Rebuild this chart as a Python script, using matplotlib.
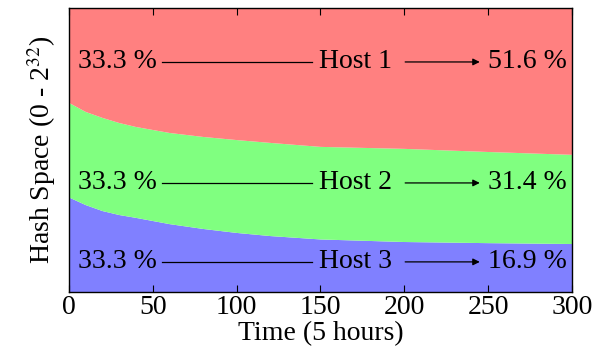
import matplotlib
matplotlib.use("Agg")
import matplotlib.pyplot as plt

# share of the hash ring owned by each host over time
time = [0, 10, 20, 30, 40, 60, 80, 100, 120, 150, 200, 250, 300]
host3 = [0.333, 0.306, 0.285, 0.271, 0.261, 0.239, 0.222, 0.208, 0.197, 0.185, 0.176, 0.172, 0.169]
host2 = [0.333, 0.328, 0.328, 0.324, 0.320, 0.321, 0.324, 0.327, 0.328, 0.326, 0.328, 0.321, 0.314]
host1 = [0.334, 0.366, 0.387, 0.405, 0.419, 0.440, 0.454, 0.465, 0.475, 0.489, 0.496, 0.507, 0.517]

hosts = ["Host 3", "Host 2", "Host 1"]
start_labels = ["33.3 %", "33.3 %", "33.3 %"]
end_labels = ["16.9 %", "31.4 %", "51.6 %"]
row_y = [0.106, 0.384, 0.81]

colors = ["#8080FF", "#80FF80", "#FF8080"]

plt.rcParams["font.family"] = ["Liberation Serif", "DejaVu Serif"]
plt.rcParams["mathtext.fontset"] = "stix"

fig = plt.figure(figsize=(6.1, 3.51), dpi=100)
ax = fig.add_axes([0.1131, 0.1681, 0.8246, 0.8091])

ax.stackplot(time, host3, host2, host1, colors=colors, linewidth=0)
ax.set_xlim(0, 300)
ax.set_ylim(0, 1)

fs = 20
for name, a, b, y in zip(hosts, start_labels, end_labels, row_y):
    ax.text(5.4, y, a, fontsize=fs, va="center", ha="left")
    ax.plot([55.5, 145], [y, y], color="black", linewidth=0.9)
    ax.text(171, y, name, fontsize=fs, va="center", ha="center")
    ax.annotate("", xy=(245, y), xytext=(200.5, y),
                arrowprops=dict(arrowstyle="-|>", color="black", lw=0.9,
                                mutation_scale=10, shrinkA=0, shrinkB=0))
    ax.text(250, y, b, fontsize=fs, va="center", ha="left")

ax.set_xticks([0, 50, 100, 150, 200, 250, 300])
ax.set_yticks([])
ax.tick_params(axis="x", direction="in", top=True, length=5, width=0.8,
               labelsize=fs, pad=2)
for s in ax.spines.values():
    s.set_linewidth(1.0)

ax.set_xlabel("Time (5 hours)", fontsize=fs, labelpad=1)
ax.set_ylabel(r"Hash Space (0 - 2$^{32}$)", fontsize=fs, labelpad=8)

fig.savefig("out.png", dpi=100)
